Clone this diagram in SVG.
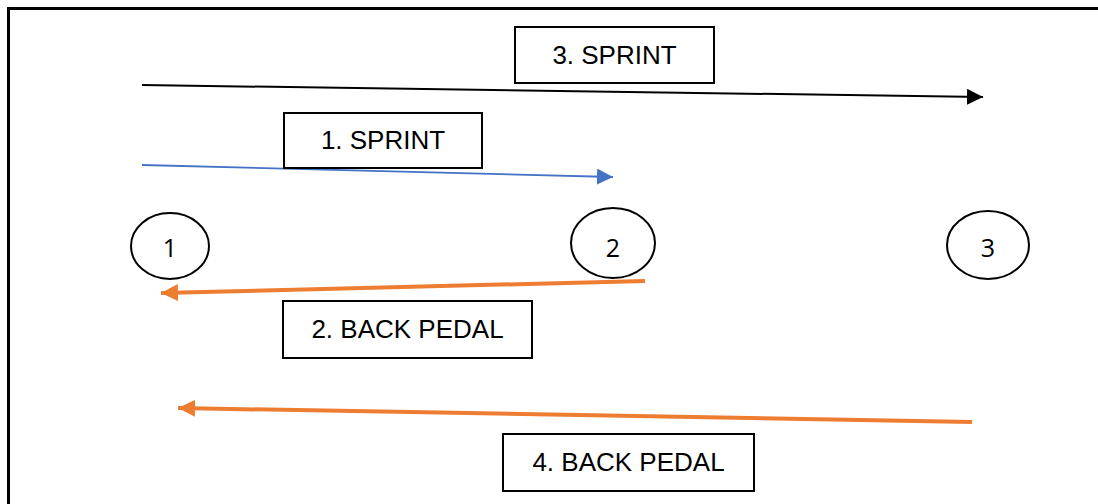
<svg xmlns="http://www.w3.org/2000/svg" width="1098" height="504" viewBox="0 0 1098 504">
  <style>
    .frame { fill: #ffffff; stroke: #000000; stroke-width: 3; }
    .box rect { fill: #ffffff; stroke: #000000; stroke-width: 2; }
    .box text { font-family: "Liberation Sans", Arial, sans-serif; font-size: 26px; fill: #000000; text-anchor: middle; }
    .cone ellipse { fill: #ffffff; stroke: #000000; stroke-width: 2; }
    .cone text { font-family: "Open Sans", "Liberation Sans", sans-serif; font-size: 25px; fill: #000000; text-anchor: middle; }
    .run { fill: none; }
    .black { stroke: #000000; stroke-width: 2; }
    .blue { stroke: #4472C4; stroke-width: 1.8; }
    .orange { stroke: #ED7D31; stroke-width: 4; }
  </style>
  <defs>
    <marker id="headBlack" markerUnits="userSpaceOnUse" viewBox="0 0 16 16" refX="16" refY="8" markerWidth="16" markerHeight="16" orient="auto">
      <path d="M0,0 L16,8 L0,16 Z" fill="#000000"/>
    </marker>
    <marker id="headBlue" markerUnits="userSpaceOnUse" viewBox="0 0 16 16" refX="16" refY="8" markerWidth="16" markerHeight="16" orient="auto">
      <path d="M0,0 L16,8 L0,16 Z" fill="#4472C4"/>
    </marker>
    <marker id="headOrange" markerUnits="userSpaceOnUse" viewBox="0 0 17 17" refX="17" refY="8.5" markerWidth="17" markerHeight="17" orient="auto">
      <path d="M0,0 L17,8.5 L0,17 Z" fill="#ED7D31"/>
    </marker>
  </defs>

  <!-- outer frame -->
  <rect class="frame" x="8.5" y="8.5" width="1100" height="510"/>

  <!-- cones -->
  <g id="cone1" class="cone">
    <ellipse cx="170" cy="246" rx="39" ry="33"/>
    <text x="170" y="257">1</text>
  </g>
  <g id="cone2" class="cone">
    <ellipse cx="613" cy="243" rx="42" ry="35"/>
    <text x="613" y="257">2</text>
  </g>
  <g id="cone3" class="cone">
    <ellipse cx="988" cy="245" rx="41" ry="34"/>
    <text x="988" y="257">3</text>
  </g>

  <!-- runs between cones -->
  <g id="connectors">
    <line class="run black" x1="142" y1="85" x2="983" y2="97" marker-end="url(#headBlack)"/>
    <line class="run blue" x1="142" y1="165" x2="613" y2="177" marker-end="url(#headBlue)"/>
    <line class="run orange" x1="645" y1="281" x2="161" y2="293" marker-end="url(#headOrange)"/>
    <line class="run orange" x1="972" y1="422" x2="178" y2="408" marker-end="url(#headOrange)"/>
  </g>

  <!-- drill labels -->
  <g id="label3" class="box">
    <rect x="515" y="27" width="199" height="56"/>
    <text x="614.5" y="64">3. SPRINT</text>
  </g>
  <g id="label1" class="box">
    <rect x="284" y="113" width="198" height="55"/>
    <text x="383" y="149">1. SPRINT</text>
  </g>
  <g id="label2" class="box">
    <rect x="283" y="301" width="249" height="57"/>
    <text x="407.5" y="338">2. BACK PEDAL</text>
  </g>
  <g id="label4" class="box">
    <rect x="503" y="434" width="251" height="57"/>
    <text x="628.5" y="471">4. BACK PEDAL</text>
  </g>
</svg>
